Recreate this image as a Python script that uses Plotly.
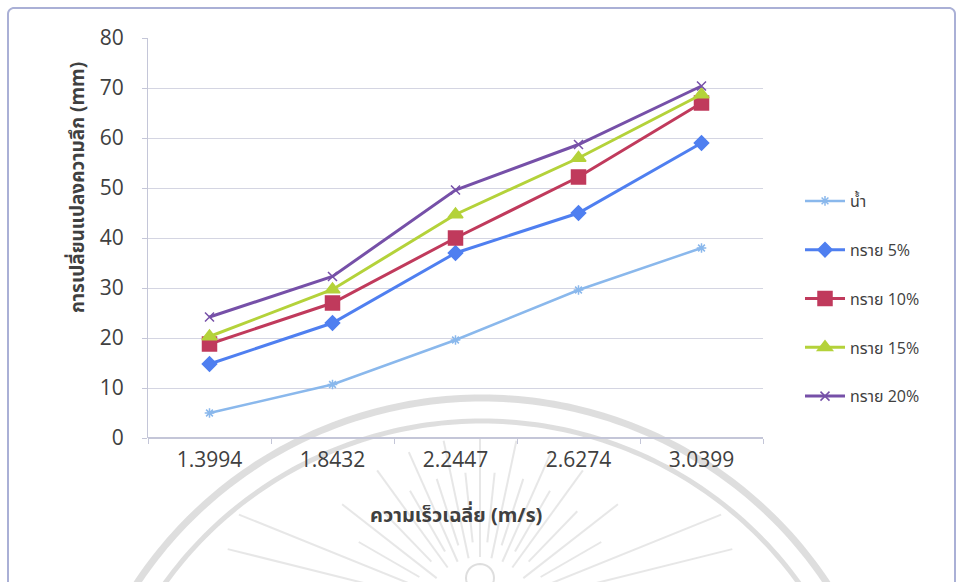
import math
import plotly.graph_objects as go

# ---- data -------------------------------------------------------------
velocity = ["1.3994", "1.8432", "2.2447", "2.6274", "3.0399"]
series_names = ["น้ำ", "ทราย 5%", "ทราย 10%", "ทราย 15%", "ทราย 20%"]
water = [5, 10.7, 19.6, 29.6, 38]
sand_5 = [14.8, 23, 37, 45, 59]
sand_10 = [18.8, 27, 40, 52.2, 67]
sand_15 = [20.3, 29.7, 44.7, 56, 68.7]
sand_20 = [24.2, 32.3, 49.6, 58.7, 70.4]
y_ticks = [0, 10, 20, 30, 40, 50, 60, 70, 80]

# ---- geometry helpers (plot area in pixels) ---------------------------
W, H = 960, 582
PX0, PX1, PY0, PY1 = 148, 763, 38, 438


def px(x):
    return (x - PX0) / (PX1 - PX0)


def py(y):
    return (PY1 - y) / (PY1 - PY0)


def poly_path(points):
    return "M " + " L ".join(f"{px(x):.5f},{py(y):.5f}" for x, y in points)


# ---- traces -----------------------------------------------------------
styles = [
    dict(color="#8ab8ec", width=2.5, symbol="asterisk-open", size=8),
    dict(color="#4f7ff0", width=3, symbol="diamond", size=11),
    dict(color="#c03a5c", width=3, symbol="square", size=14),
    dict(color="#b4d23a", width=3, symbol="triangle-up", size=13),
    dict(color="#7650a8", width=3, symbol="x-thin-open", size=9),
]
values = [water, sand_5, sand_10, sand_15, sand_20]

fig = go.Figure()
for i, (name, vals, st) in enumerate(zip(series_names, values, styles)):
    fig.add_trace(
        go.Scatter(
            x=velocity,
            y=vals,
            name=name,
            legendgroup=f"g{i}",
            mode="lines+markers",
            line=dict(color=st["color"], width=st["width"]),
            marker=dict(
                symbol=st["symbol"],
                size=st["size"],
                color=st["color"],
                line=dict(color=st["color"], width=1.5),
            ),
        )
    )

# ---- background emblem (faint grey arcs and rays) ---------------------
shapes = []
wm = "rgba(160,160,160,0.35)"
cx, cy = 482, 812
for r, w in [(414, 7), (391, 5)]:
    pts = []
    for k in range(0, 181):
        a = math.radians(180 - k)
        pts.append((cx + r * math.cos(a), cy - r * math.sin(a)))
    shapes.append(dict(type="path", xref="paper", yref="paper", path=poly_path(pts),
                       line=dict(color=wm, width=w), layer="below"))

rcx, rcy = 480, 612
ray_angles = [14, 22, 30, 38, 46, 54, 60, 66, 72, 78, 84, 90,
              96, 102, 108, 114, 120, 126, 134, 142, 150, 158, 166]
for j, ang in enumerate(ray_angles):
    a = math.radians(ang)
    r_in = 55 if j % 2 else 70
    r_out = 175 if j % 2 else 140
    if ang < 25 or ang > 155:
        r_out = 260
    p1 = (rcx + r_in * math.cos(a), rcy - r_in * math.sin(a))
    p2 = (rcx + r_out * math.cos(a), rcy - r_out * math.sin(a))
    shapes.append(dict(type="path", xref="paper", yref="paper", path=poly_path([p1, p2]),
                       line=dict(color="rgba(160,160,160,0.25)", width=2), layer="below"))

circle_pts = [(480 + 14 * math.cos(math.radians(t)), 578 - 14 * math.sin(math.radians(t)))
              for t in range(0, 361, 10)]
shapes.append(dict(type="path", xref="paper", yref="paper", path=poly_path(circle_pts),
                   line=dict(color=wm, width=2), layer="below"))

# ---- chart-area frame with rounded top corners -------------------------
rr = 6
L, T, R, B = 8, 8, 955, 600
frame = [(L, B), (L, T + rr)]
for t in range(180, 89, -10):
    frame.append((L + rr + rr * math.cos(math.radians(t)), T + rr - rr * math.sin(math.radians(t))))
for t in range(90, -1, -10):
    frame.append((R - rr + rr * math.cos(math.radians(t)), T + rr - rr * math.sin(math.radians(t))))
frame.append((R, B))
shapes.append(dict(type="path", xref="paper", yref="paper", path=poly_path(frame),
                   line=dict(color="#aab0d6", width=2), layer="below"))

font_main = "Open Sans, Noto Sans Thai, Noto Sans, sans-serif"

fig.update_layout(
    width=W,
    height=H,
    margin=dict(l=PX0, r=W - PX1, t=PY0, b=H - PY1),
    paper_bgcolor="white",
    plot_bgcolor="white",
    shapes=shapes,
    showlegend=True,
    legend=dict(
        x=px(800),
        y=py(184),
        xanchor="left",
        yanchor="top",
        traceorder="grouped",
        tracegroupgap=25,
        font=dict(family=font_main, size=16, color="#404040"),
        bgcolor="rgba(0,0,0,0)",
        itemwidth=40,
    ),
    xaxis=dict(
        type="category",
        range=[-0.5, 4.5],
        showgrid=False,
        showline=False,
        zeroline=False,
        ticks="outside",
        tickson="boundaries",
        ticklen=5,
        tickcolor="#c4c6d8",
        ticklabelstandoff=7,
        tickfont=dict(family=font_main, size=21, color="#404040"),
    ),
    yaxis=dict(
        range=[0, 80],
        tickvals=y_ticks,
        showgrid=True,
        gridcolor="#d4d5e2",
        gridwidth=1,
        showline=True,
        linecolor="#c4c6d8",
        linewidth=1,
        zeroline=True,
        zerolinecolor="#c4c6d8",
        ticks="outside",
        ticklen=5,
        tickcolor="#c4c6d8",
        ticklabelstandoff=14,
        tickfont=dict(family=font_main, size=21, color="#404040"),
    ),
    annotations=[
        dict(
            text="<b>การเปลี่ยนแปลงความลึก (mm)</b>",
            xref="paper", yref="paper",
            x=px(62), y=py(188),
            textangle=-90,
            showarrow=False,
            font=dict(family=font_main, size=19, color="#404040"),
        ),
        dict(
            text="<b>ความเร็วเฉลี่ย (m/s)</b>",
            xref="paper", yref="paper",
            x=px(456), y=py(530),
            showarrow=False,
            font=dict(family=font_main, size=20, color="#404040"),
        ),
    ],
)

fig.write_html("out.html")
